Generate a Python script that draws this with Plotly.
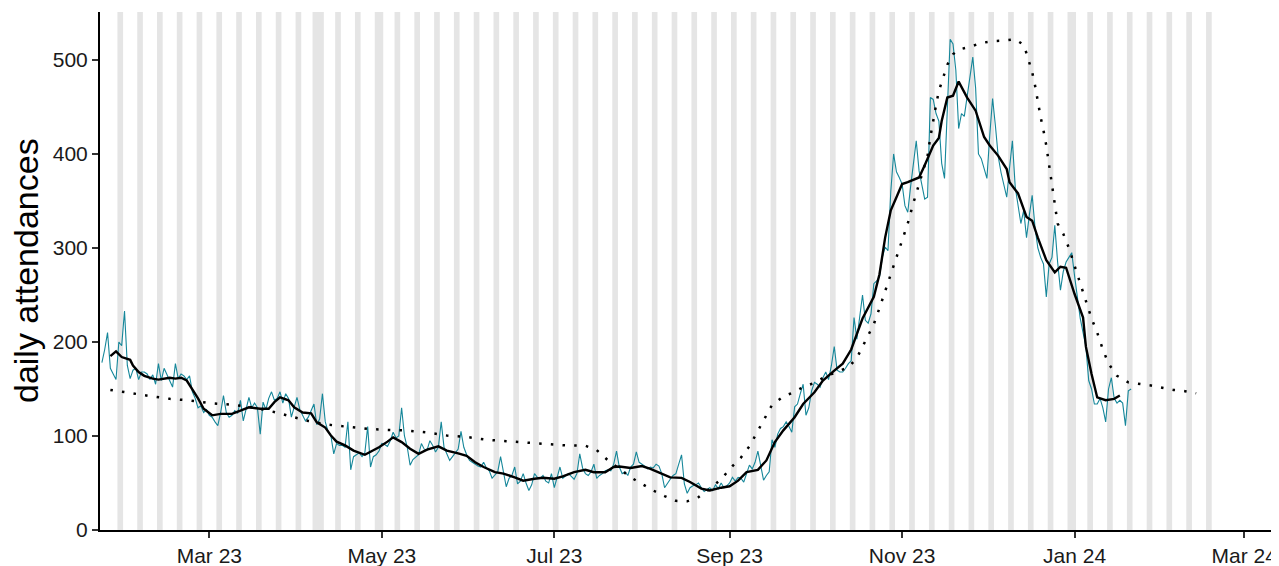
import pandas as pd
import plotly.graph_objects as go

# daily attendances, one value per day starting 22 Jan 2023
daily_start = "2023-01-22"
daily = [
    # Jan 2023 (22-31)
    178, 192, 210, 172, 166, 160, 200, 196, 233, 175,
    # Feb
    161, 170, 172, 160, 168, 168, 166, 160, 165, 155, 177, 159, 172, 165,
    157, 152, 177, 161, 166, 164, 160, 164, 147, 140, 130, 132, 125, 128,
    # Mar
    122, 120, 115, 111, 125, 143, 125, 120, 122, 127, 124, 138, 116, 128,
    141, 130, 135, 130, 102, 136, 128, 140, 147, 138, 140, 147, 135, 145,
    140, 120, 132,
    # Apr
    141, 128, 122, 116, 120, 128, 134, 112, 118, 145, 115, 105, 100, 81,
    92, 90, 90, 88, 115, 64, 78, 80, 82, 78, 82, 110, 67, 78, 80, 84,
    # May
    92, 91, 89, 95, 104, 98, 100, 130, 100, 88, 69, 75, 78, 80, 92, 86,
    85, 95, 90, 83, 88, 115, 88, 80, 74, 78, 82, 86, 105, 88, 80,
    # Jun
    74, 72, 70, 68, 67, 72, 66, 63, 55, 58, 62, 78, 60, 46, 55, 58, 67,
    49, 52, 60, 50, 42, 48, 60, 56, 55, 58, 52, 50, 60,
    # Jul
    45, 55, 67, 55, 58, 60, 57, 54, 60, 81, 66, 60, 58, 62, 70, 55, 58,
    60, 63, 64, 63, 70, 84, 67, 60, 62, 58, 67, 70, 83, 72,
    # Aug
    70, 68, 65, 67, 66, 70, 68, 60, 45, 50, 54, 58, 60, 70, 80, 49, 39,
    45, 47, 48, 50, 45, 41, 43, 45, 42, 48, 44, 50, 45, 47,
    # Sep
    50, 56, 52, 56, 55, 51, 60, 69, 65, 72, 84, 67, 53, 58, 62, 96, 88,
    102, 108, 110, 115, 110, 104, 131, 134, 145, 155, 122, 130, 148,
    # Oct
    157, 155, 152, 162, 168, 160, 175, 195, 170, 168, 168, 172, 177, 180,
    226, 203, 225, 250, 223, 220, 230, 262, 265, 269, 290, 301, 297, 360,
    400, 381, 375,
    # Nov
    368, 345, 338, 365, 390, 414, 382, 365, 352, 354, 460, 458, 443, 435,
    390, 374, 450, 522, 517, 489, 427, 443, 440, 460, 480, 503, 470, 400,
    395, 385,
    # Dec
    374, 420, 459, 430, 397, 380, 365, 354, 385, 414, 365, 347, 326, 340,
    311, 335, 356, 322, 300, 290, 283, 248, 283, 290, 324, 285, 255, 275,
    285, 290, 295,
    # Jan 2024 (1-21)
    270, 245, 225, 210, 195, 159, 150, 134, 134, 140, 130, 115, 150, 162,
    140, 135, 138, 135, 111, 148, 150,
]

# 7-day average (black line)
smooth_dates = [
    "2023-01-25", "2023-01-27", "2023-01-29", "2023-02-01", "2023-02-02",
    "2023-02-04", "2023-02-06", "2023-02-09", "2023-02-11", "2023-02-13",
    "2023-02-15", "2023-02-17", "2023-02-19", "2023-02-21", "2023-02-23",
    "2023-02-25", "2023-02-27", "2023-03-02", "2023-03-05", "2023-03-09",
    "2023-03-12", "2023-03-15", "2023-03-19", "2023-03-22", "2023-03-24",
    "2023-03-26", "2023-03-29", "2023-03-31", "2023-04-03", "2023-04-06",
    "2023-04-08", "2023-04-11", "2023-04-13", "2023-04-15", "2023-04-18",
    "2023-04-21", "2023-04-25", "2023-04-27", "2023-04-30", "2023-05-03",
    "2023-05-05", "2023-05-08", "2023-05-11", "2023-05-14", "2023-05-17",
    "2023-05-21", "2023-05-24", "2023-05-28", "2023-05-31", "2023-06-03",
    "2023-06-06", "2023-06-10", "2023-06-13", "2023-06-17", "2023-06-20",
    "2023-06-24", "2023-06-27", "2023-07-01", "2023-07-04", "2023-07-08",
    "2023-07-12", "2023-07-15", "2023-07-19", "2023-07-22", "2023-07-24",
    "2023-07-28", "2023-08-01", "2023-08-04", "2023-08-08", "2023-08-11",
    "2023-08-15", "2023-08-18", "2023-08-22", "2023-08-25", "2023-08-29",
    "2023-09-01", "2023-09-04", "2023-09-07", "2023-09-11", "2023-09-14",
    "2023-09-17", "2023-09-20", "2023-09-24", "2023-09-27", "2023-10-01",
    "2023-10-04", "2023-10-08", "2023-10-11", "2023-10-14", "2023-10-16",
    "2023-10-18", "2023-10-22", "2023-10-24", "2023-10-26", "2023-10-28",
    "2023-10-30", "2023-11-01", "2023-11-03", "2023-11-07", "2023-11-09",
    "2023-11-12", "2023-11-14", "2023-11-15", "2023-11-17", "2023-11-19",
    "2023-11-21", "2023-11-24", "2023-11-27", "2023-11-30", "2023-12-02",
    "2023-12-05", "2023-12-08", "2023-12-09", "2023-12-12", "2023-12-15",
    "2023-12-17", "2023-12-19", "2023-12-22", "2023-12-25", "2023-12-27",
    "2023-12-29", "2024-01-01", "2024-01-04", "2024-01-05", "2024-01-07",
    "2024-01-09", "2024-01-12", "2024-01-15", "2024-01-17",
]
smooth_vals = [
    185, 190, 184, 181, 175, 168, 164, 161, 160, 161,
    162, 161, 162, 159, 150, 140, 129, 122, 123.5, 123.5,
    127, 130.5, 129, 129, 136, 141, 138, 130.5, 125, 124,
    114.5, 109, 100.5, 94, 90, 84.5, 80, 83, 88, 94,
    98.5, 93.5, 86.5, 81, 85.5, 89, 84.5, 81.5, 79, 72,
    67, 61.5, 60, 56, 52.5, 54.5, 55.5, 54.5, 57, 61.5,
    64, 61.5, 61.5, 67, 67.5, 66, 68, 65, 60, 56,
    55.5, 51, 44, 42, 45, 46.5, 52.5, 61.5, 64, 74,
    93.5, 106, 120, 134, 146.5, 159, 169.5, 177, 192, 208,
    225, 248, 272, 311, 340, 354, 368, 370, 375, 388,
    409, 417, 435, 460, 462, 477, 460, 446, 418, 409,
    398, 384, 370, 358, 333, 329, 311, 287, 274, 280,
    279, 251, 226, 195, 166, 141, 138, 139.5, 143,
]

# comparison curve (dotted line)
dotted_dates = [
    "2023-01-25", "2023-02-01", "2023-02-08", "2023-02-15", "2023-02-22",
    "2023-03-01", "2023-03-08", "2023-03-15", "2023-03-22", "2023-03-29",
    "2023-04-05", "2023-04-12", "2023-04-19", "2023-04-26", "2023-05-03",
    "2023-05-10", "2023-05-17", "2023-05-24", "2023-05-31", "2023-06-07",
    "2023-06-14", "2023-06-21", "2023-06-28", "2023-07-05", "2023-07-12",
    "2023-07-16", "2023-07-20", "2023-07-24", "2023-07-28", "2023-08-01",
    "2023-08-05", "2023-08-09", "2023-08-13", "2023-08-17", "2023-08-21",
    "2023-08-25", "2023-08-29", "2023-09-02", "2023-09-05", "2023-09-08",
    "2023-09-10", "2023-09-12", "2023-09-14", "2023-09-16", "2023-09-20",
    "2023-09-24", "2023-09-27", "2023-10-01", "2023-10-05", "2023-10-09",
    "2023-10-13", "2023-10-16", "2023-10-18", "2023-10-20", "2023-10-22",
    "2023-10-24", "2023-10-26", "2023-10-28", "2023-10-30", "2023-11-01",
    "2023-11-03", "2023-11-05", "2023-11-07", "2023-11-09", "2023-11-10",
    "2023-11-11", "2023-11-12", "2023-11-13", "2023-11-14", "2023-11-16",
    "2023-11-17", "2023-11-19", "2023-11-21", "2023-11-25", "2023-11-29",
    "2023-12-03", "2023-12-07", "2023-12-11", "2023-12-14", "2023-12-15",
    "2023-12-16", "2023-12-17", "2023-12-18", "2023-12-19", "2023-12-20",
    "2023-12-21", "2023-12-22", "2023-12-23", "2023-12-24", "2023-12-25",
    "2023-12-26", "2023-12-28", "2023-12-30", "2024-01-01", "2024-01-03",
    "2024-01-05", "2024-01-07", "2024-01-09", "2024-01-11", "2024-01-13",
    "2024-01-16", "2024-01-20", "2024-01-24", "2024-01-28", "2024-02-01",
    "2024-02-05", "2024-02-09", "2024-02-13",
]
dotted_vals = [
    149, 145.5, 142.5, 139.5, 137.8,
    135, 133.5, 131, 127, 121.5,
    116, 112, 109.5, 107.5, 106.5,
    105.8, 103.8, 100.5, 99, 96,
    94.5, 92.8, 91.5, 90, 89.6,
    85, 74, 65, 56, 49,
    42, 36, 31, 30.5, 35,
    44, 54, 68, 77, 89,
    100, 110, 122, 133, 142,
    147, 152, 156.5, 163.5, 168,
    173, 183, 195, 207, 219,
    236, 254, 272, 290, 306,
    326, 348, 368, 386, 398,
    418, 436, 452, 467, 487,
    495, 506, 511, 514, 518,
    520, 520.5, 522, 516, 507,
    497, 487, 473, 455, 439,
    425, 409, 388, 368, 345,
    326, 315, 300, 281, 263,
    245, 225, 210, 192, 177,
    164, 157, 155.5, 153.7, 151.3,
    149, 147.7, 145.5,
]

# grey shading: weekends and bank holidays
shade_start, shade_end = "2023-01-23", "2024-02-18"
bank_holidays = ["2023-04-07", "2023-04-10", "2023-05-01", "2024-01-01"]

tick_dates = ["2023-03-01", "2023-05-01", "2023-07-01", "2023-09-01",
              "2023-11-01", "2024-01-01", "2024-03-01"]
tick_text = ["Mar 23", "May 23", "Jul 23", "Sep 23", "Nov 23", "Jan 24", "Mar 24"]
y_ticks = [0, 100, 200, 300, 400, 500]


daily_dates = pd.date_range(daily_start, periods=len(daily), freq="D")

# merge shaded days into runs
days = pd.date_range(shade_start, shade_end, freq="D")
off = days[(days.dayofweek >= 5) | days.isin(pd.to_datetime(bank_holidays))]
runs = []
for d in off:
    if runs and d - runs[-1][1] == pd.Timedelta(days=1):
        runs[-1][1] = d
    else:
        runs.append([d, d])

half = pd.Timedelta(hours=12)
shapes = [
    dict(type="rect", xref="x", yref="paper", x0=a - half, x1=b + half,
         y0=0, y1=1, fillcolor="#E5E5E5", line_width=0, layer="below")
    for a, b in runs
]

fig = go.Figure()
fig.add_trace(go.Scatter(x=daily_dates, y=daily, mode="lines",
                         line=dict(color="#16879A", width=1.1)))
fig.add_trace(go.Scatter(x=pd.to_datetime(smooth_dates), y=smooth_vals, mode="lines",
                         line=dict(color="black", width=2.4)))
fig.add_trace(go.Scatter(x=pd.to_datetime(dotted_dates), y=dotted_vals, mode="lines",
                         line=dict(color="black", width=2.5, dash="2.5px,9.2px")))

# page body adds an 8px offset, so margins are set 8px smaller
fig.update_layout(
    width=1271, height=558,
    margin=dict(l=92, r=0, t=4, b=36),
    paper_bgcolor="white", plot_bgcolor="white",
    showlegend=False,
    shapes=shapes,
    font=dict(family="Liberation Sans, Arial, sans-serif", size=21, color="#1a1a1a"),
)
# y title as a rotated annotation so it can sit close to the page edge
fig.add_annotation(
    text="daily attendances", textangle=-90, showarrow=False,
    xref="paper", yref="paper", x=0, y=0.5, xanchor="center", yanchor="middle",
    xshift=-74, font=dict(size=34, color="black"),
)
fig.update_xaxes(
    range=["2023-01-21 08:00", "2024-03-13 07:00"],
    tickvals=pd.to_datetime(tick_dates), ticktext=tick_text,
    showgrid=False, zeroline=False,
    showline=True, linecolor="black", linewidth=2,
    ticks="outside", ticklen=6, tickwidth=2, tickcolor="#333333",
)
fig.update_yaxes(
    range=[0, 551], tickvals=y_ticks,
    showgrid=False, zeroline=False,
    showline=True, linecolor="black", linewidth=2,
    ticks="outside", ticklen=6, tickwidth=2, tickcolor="#333333",
)

fig.write_html("out.html")
